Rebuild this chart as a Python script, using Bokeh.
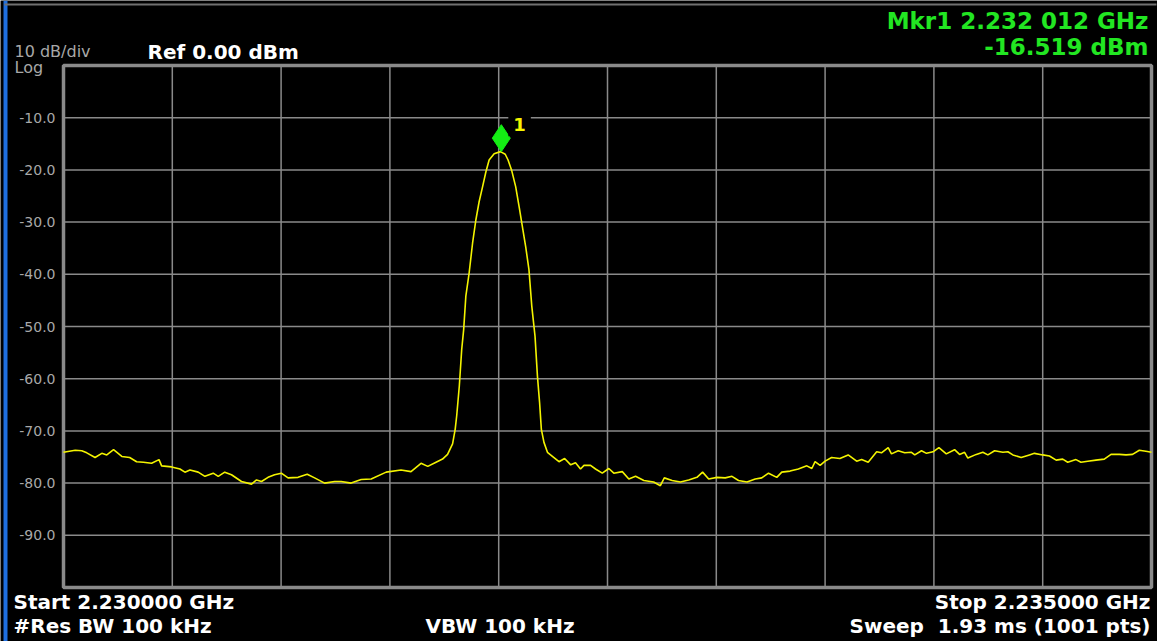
from bokeh.plotting import figure
from bokeh.models import (Range1d, FixedTicker, PrintfTickFormatter, Label,
                          LinearAxis)
from bokeh.embed import file_html
from bokeh.resources import INLINE

# ---------------- data ----------------
start_mhz = 2230.0
stop_mhz = 2235.0
ref_level = 0.0
bottom_level = -100.0

freq_offset_mhz = [
    0.000, 0.054, 0.084, 0.107, 0.145, 0.176, 0.199, 0.230, 0.268, 0.304,
    0.336, 0.367, 0.405, 0.439, 0.451, 0.497, 0.535, 0.558, 0.581, 0.619,
    0.650, 0.688, 0.711, 0.741, 0.772, 0.818, 0.864, 0.887, 0.910, 0.940,
    0.970, 1.001, 1.032, 1.078, 1.120, 1.154, 1.200, 1.246, 1.276, 1.322,
    1.368, 1.414, 1.483, 1.551, 1.597, 1.643, 1.674, 1.712, 1.742, 1.765,
    1.788, 1.800, 1.807, 1.819, 1.830, 1.839, 1.849, 1.864, 1.880, 1.895,
    1.910, 1.926, 1.941, 1.956, 1.979, 2.008, 2.030, 2.043, 2.059, 2.078,
    2.094, 2.109, 2.124, 2.139, 2.152, 2.167, 2.178, 2.188, 2.196, 2.208,
    2.224, 2.254, 2.277, 2.303, 2.331, 2.353, 2.376, 2.392, 2.422, 2.445,
    2.476, 2.506, 2.529, 2.568, 2.598, 2.629, 2.667, 2.712, 2.743, 2.761,
    2.797, 2.835, 2.873, 2.911, 2.937, 2.965, 3.003, 3.041, 3.072, 3.102,
    3.141, 3.179, 3.209, 3.240, 3.278, 3.301, 3.339, 3.377, 3.416, 3.439,
    3.454, 3.477, 3.500, 3.530, 3.568, 3.606, 3.645, 3.668, 3.698, 3.737,
    3.759, 3.790, 3.805, 3.836, 3.866, 3.897, 3.912, 3.943, 3.966, 3.996,
    4.023, 4.057, 4.095, 4.118, 4.141, 4.156, 4.195, 4.225, 4.248, 4.279,
    4.317, 4.340, 4.363, 4.401, 4.439, 4.462, 4.500, 4.531, 4.562, 4.592,
    4.615, 4.653, 4.676, 4.707, 4.745, 4.783, 4.814, 4.852, 4.883, 4.913,
    4.944, 4.974, 5.000,
]
level_dbm = [
    -74.1, -73.7, -73.8, -74.2, -75.1, -74.3, -74.6, -73.6, -74.9, -75.1,
    -75.9, -76.0, -76.2, -75.5, -76.7, -76.9, -77.3, -77.9, -77.5, -77.9,
    -78.7, -78.1, -78.7, -77.9, -78.4, -79.7, -80.2, -79.4, -79.7, -78.9,
    -78.4, -78.1, -79.0, -78.9, -78.3, -79.0, -80.0, -79.7, -79.7, -80.0,
    -79.3, -79.2, -77.9, -77.5, -77.8, -76.2, -76.8, -76.0, -75.4, -74.5,
    -72.5, -69.7, -67.1, -61.4, -54.4, -50.6, -44.2, -39.8, -34.0, -29.6,
    -26.1, -23.2, -20.4, -18.1, -16.9, -16.5, -17.0, -18.1, -20.0, -23.2,
    -27.1, -30.9, -34.7, -39.1, -46.1, -51.9, -59.5, -64.6, -69.7, -72.2,
    -74.1, -75.1, -75.9, -75.3, -76.5, -76.1, -77.3, -76.6, -76.6, -77.3,
    -78.1, -77.2, -78.1, -77.8, -79.2, -78.7, -79.5, -79.8, -80.5, -79.0,
    -79.5, -79.8, -79.4, -78.9, -77.9, -79.2, -78.9, -79.0, -78.7, -79.5,
    -79.8, -79.2, -79.0, -78.1, -78.9, -77.9, -77.7, -77.3, -76.7, -77.2,
    -75.9, -76.6, -75.8, -75.1, -75.3, -74.6, -75.8, -75.5, -76.0, -74.0,
    -74.2, -73.2, -74.4, -73.8, -74.2, -74.1, -74.6, -73.8, -74.3, -74.0,
    -73.2, -74.4, -73.6, -74.5, -74.1, -75.2, -74.5, -74.1, -74.6, -73.8,
    -74.1, -74.0, -74.6, -75.1, -74.6, -74.3, -74.6, -74.8, -75.6, -75.4,
    -76.0, -75.5, -76.0, -75.8, -75.6, -75.4, -74.5, -74.5, -74.6, -74.5,
    -73.7, -73.9, -74.1,
]
freq_mhz = [start_mhz + f for f in freq_offset_mhz]

mkr_freq_mhz = 2232.012
mkr_level_dbm = -16.519

y_ticks = [-90, -80, -70, -60, -50, -40, -30, -20, -10]
x_grid = [2230.5, 2231.0, 2231.5, 2232.0, 2232.5, 2233.0, 2233.5, 2234.0, 2234.5]

txt_scale = "10 dB/div"
txt_log = "Log"
txt_ref = "Ref 0.00 dBm"
txt_mkr1 = "Mkr1 2.232 012 GHz"
txt_mkr2 = "-16.519 dBm"
txt_start = "Start 2.230000 GHz"
txt_rbw = "#Res BW 100 kHz"
txt_vbw = "VBW 100 kHz"
txt_stop = "Stop 2.235000 GHz"
txt_sweep = "Sweep\u00a0 1.93 ms (1001 pts)"
txt_mkr_num = "1"

# ---------------- layout / styles ----------------
W, H = 1157, 641
FL, FR, FT, FB = 63, 1151, 65, 587   # graticule edges in screen pixels
GRID = "#8a8a8a"
GREY_TXT = "#a8a8a8"
YELLOW = "#f4f400"
GREEN_TXT = "#22e622"
GREEN_MK = "#14ee14"
FONT = "DejaVu Sans"

# the plot frame covers the whole screen: default ranges are screen pixels,
# the spectrum uses extra ranges aligned to the graticule.
kx = (stop_mhz - start_mhz) / (FR - FL)
ky = (ref_level - bottom_level) / (FB - FT)
freq_range = Range1d(start_mhz - FL * kx, stop_mhz + (W - FR) * kx)
level_range = Range1d(bottom_level - (H - FB) * ky, ref_level + FT * ky)

p = figure(width=W, height=H,
           x_range=Range1d(0, W), y_range=Range1d(H, 0),
           x_axis_location=None, y_axis_location=None,
           toolbar_location=None, output_backend="svg",
           min_border=0, min_border_left=0, min_border_right=0,
           min_border_top=0, min_border_bottom=0,
           background_fill_color="black", border_fill_color="black",
           outline_line_color=None)
p.xgrid.visible = False
p.ygrid.visible = False
p.extra_x_ranges = {"freq": freq_range}
p.extra_y_ranges = {"level": level_range}
R = dict(x_range_name="freq", y_range_name="level")

# y axis fixed at the graticule's left edge
ax = LinearAxis(fixed_location=start_mhz, **R)
ax.ticker = FixedTicker(ticks=y_ticks)
ax.formatter = PrintfTickFormatter(format="%.1f")
ax.axis_line_color = None
ax.major_tick_line_color = None
ax.minor_tick_line_color = None
ax.major_tick_out = 0
ax.major_tick_in = 0
ax.major_label_standoff = 8
ax.major_label_text_color = GREY_TXT
ax.major_label_text_font = FONT
ax.major_label_text_font_size = "14px"
p.add_layout(ax, "left")

# graticule
p.segment(x0=x_grid, x1=x_grid, y0=[bottom_level] * len(x_grid),
          y1=[ref_level] * len(x_grid), line_color=GRID, line_width=1.5, **R)
p.segment(x0=[start_mhz] * len(y_ticks), x1=[stop_mhz] * len(y_ticks),
          y0=y_ticks, y1=y_ticks, line_color=GRID, line_width=1.5, **R)
p.quad(left=[start_mhz], right=[stop_mhz], bottom=[bottom_level], top=[ref_level],
       fill_color=None, line_color=GRID, line_width=3.5, **R)

# trace
p.line(freq_mhz, level_dbm, line_color=YELLOW, line_width=1.6, **R)

# marker diamond sitting on top of the peak
p.scatter([mkr_freq_mhz], [mkr_level_dbm + 2.6], marker="diamond", size=27,
          fill_color=GREEN_MK, line_color=GREEN_MK, **R)
p.add_layout(Label(x=mkr_freq_mhz, y=mkr_level_dbm, x_offset=7, y_offset=27,
                   text=txt_mkr_num, text_color=YELLOW, text_font=FONT,
                   text_font_style="bold", text_font_size="18px",
                   text_baseline="alphabetic",
                   background_fill_color="black", padding=5, **R))

# screen decorations (screen-pixel ranges)
p.quad(left=[3], right=[7], top=[0], bottom=[H], fill_color="#1f6fe0",
       line_color=None)
p.quad(left=[4], right=[1156], top=[3], bottom=[5], fill_color="#707070",
       line_color=None)


def lab(text, x, baseline, color, size, bold=True, align="left"):
    # vertical anchor at the middle of the em box
    p.add_layout(Label(x=x, y=baseline - 0.3 * size, text=text, text_color=color,
                       text_font=FONT,
                       text_font_style="bold" if bold else "normal",
                       text_font_size=f"{size}px", text_align=align,
                       text_baseline="middle"))


lab(txt_scale, 14, 56, GREY_TXT, 16, bold=False)
lab(txt_log, 14, 72, GREY_TXT, 16, bold=False)
lab(txt_ref, 147, 57, "white", 20)
lab(txt_mkr1, 1148, 27, GREEN_TXT, 23, align="right")
lab(txt_mkr2, 1148, 53, GREEN_TXT, 23, align="right")
lab(txt_start, 13, 607, "white", 20)
lab(txt_rbw, 13, 631, "white", 20)
lab(txt_vbw, 425, 631, "white", 20)
lab(txt_stop, 1150, 607, "white", 20, align="right")
lab(txt_sweep, 1150, 631, "white", 20, align="right")

open("out.html", "w").write(file_html(p, INLINE))
